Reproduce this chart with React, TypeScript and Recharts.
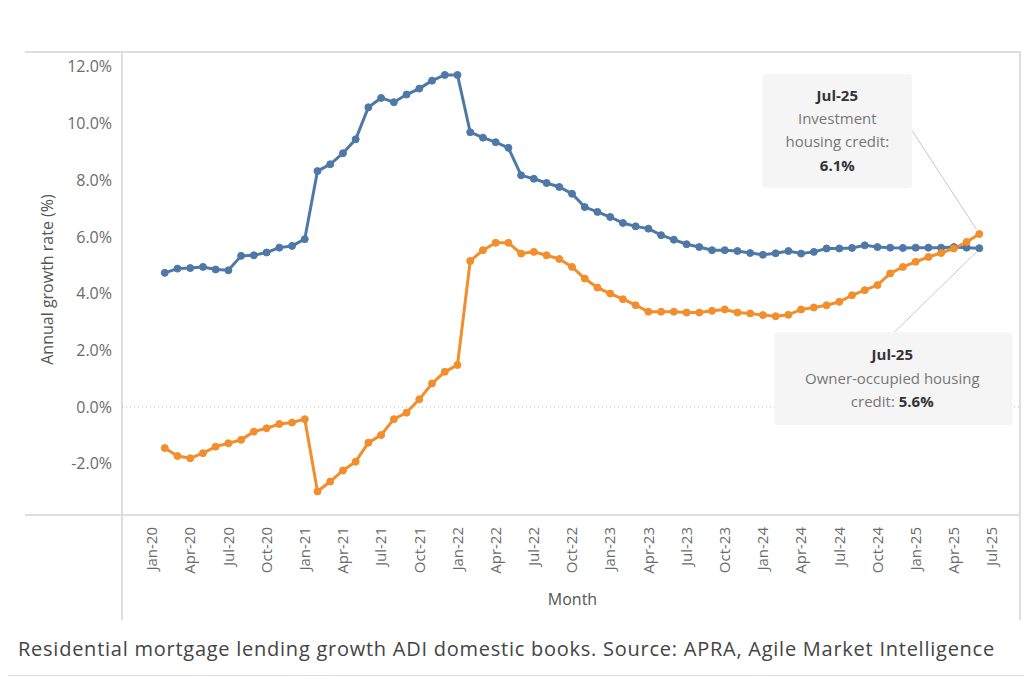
import { LineChart, Line, XAxis, YAxis, ReferenceLine, ReferenceDot, Label } from "recharts";

// quarter tick labels, one every three months starting at Jan-20 (month 0)
const tickLabels = [
  "Jan-20", "Apr-20", "Jul-20", "Oct-20",
  "Jan-21", "Apr-21", "Jul-21", "Oct-21",
  "Jan-22", "Apr-22", "Jul-22", "Oct-22",
  "Jan-23", "Apr-23", "Jul-23", "Oct-23",
  "Jan-24", "Apr-24", "Jul-24", "Oct-24",
  "Jan-25", "Apr-25", "Jul-25",
];
const yTicks = [-2, 0, 2, 4, 6, 8, 10, 12];

// first observation sits one month after Jan-20
const firstMonth = 1;

// annual growth, % (owner-occupied housing credit)
const ownerOccupied = [
  4.73, 4.88, 4.9, 4.94, 4.85, 4.82, 5.33, 5.35, 5.45, 5.62, 5.68, 5.92,
  8.32, 8.56, 8.95, 9.44, 10.57, 10.9, 10.75, 11.02, 11.23, 11.51, 11.71, 11.71,
  9.69, 9.5, 9.34, 9.14, 8.17, 8.05, 7.9, 7.76, 7.52, 7.05, 6.88, 6.7,
  6.49, 6.37, 6.29, 6.06, 5.9, 5.74, 5.64, 5.53, 5.53, 5.5, 5.43, 5.37,
  5.42, 5.5, 5.41, 5.47, 5.59, 5.59, 5.61, 5.7, 5.64, 5.62, 5.61, 5.62,
  5.62, 5.62, 5.64, 5.62, 5.6,
];

// annual growth, % (investment housing credit)
const investment = [
  -1.45, -1.73, -1.81, -1.63, -1.4, -1.28, -1.16, -0.87, -0.75, -0.6, -0.55, -0.43,
  -2.98, -2.63, -2.24, -1.93, -1.26, -0.99, -0.43, -0.2, 0.27, 0.83, 1.24, 1.48,
  5.15, 5.53, 5.79, 5.79, 5.41, 5.47, 5.35, 5.22, 4.94, 4.53, 4.21, 4.0,
  3.8, 3.59, 3.36, 3.36, 3.36, 3.33, 3.33, 3.39, 3.44, 3.33, 3.3, 3.24,
  3.2, 3.25, 3.44, 3.51, 3.59, 3.71, 3.94, 4.12, 4.3, 4.71, 4.94, 5.12,
  5.29, 5.43, 5.59, 5.82, 6.1,
];

const BLUE = "#4e79a7";
const ORANGE = "#f28e2b";
const FONT = "'Open Sans', sans-serif";

const data = ownerOccupied.map((v, i) => ({
  m: firstMonth + i,
  owner: v,
  investment: investment[i],
}));

const tickPositions = tickLabels.map((_, i) => i * 3);
const lastMonth = firstMonth + ownerOccupied.length - 1;
const lastOwner = ownerOccupied[ownerOccupied.length - 1];
const lastInvestment = investment[investment.length - 1];

function MonthTick({ x, y, payload }: any) {
  const label = tickLabels[Math.round(payload.value / 3)];
  return (
    <text
      transform={`translate(${x},${y + 4}) rotate(-90)`}
      textAnchor="end"
      dy="0.35em"
      fontSize={15}
      fontFamily={FONT}
      fill="#6b6b6b"
    >
      {label}
    </text>
  );
}

function MonthTitle({ viewBox }: any) {
  const { x, y, width } = viewBox;
  return (
    <text x={x + width / 2 + 2} y={y + 90} textAnchor="middle" fontSize={16} fontFamily={FONT} fill="#555">
      Month
    </text>
  );
}

function GrowthTitle({ viewBox }: any) {
  const { y, height } = viewBox;
  const cx = 47;
  const cy = y + height / 2 - 4;
  return (
    <text
      transform={`translate(${cx},${cy}) rotate(-90)`}
      textAnchor="middle"
      dy="0.35em"
      fontSize={16}
      fontFamily={FONT}
      fill="#555"
    >
      Annual growth rate (%)
    </text>
  );
}

function InvestmentNote({ cx, cy }: any) {
  const tx = cx - 142;
  return (
    <g fontFamily={FONT} fontSize={15} textAnchor="middle">
      <line x1={cx - 3} y1={cy - 5} x2={cx - 67} y2={cy - 103} stroke="#c8c8c8" strokeWidth={1} />
      <rect x={cx - 217} y={cy - 160} width={150} height={114} rx={4} fill="#f5f5f5" />
      <text x={tx} y={cy - 133} fill="#333" fontWeight={700}>Jul-25</text>
      <text x={tx} y={cy - 110} fill="#777">Investment</text>
      <text x={tx} y={cy - 87} fill="#777">housing credit:</text>
      <text x={tx} y={cy - 63} fill="#333" fontWeight={700}>{lastInvestment.toFixed(1)}%</text>
    </g>
  );
}

function OwnerNote({ cx, cy }: any) {
  const tx = cx - 87;
  return (
    <g fontFamily={FONT} fontSize={15} textAnchor="middle">
      <line x1={cx - 3} y1={cy + 4} x2={cx - 85} y2={cy + 84} stroke="#c8c8c8" strokeWidth={1} />
      <rect x={cx - 205} y={cy + 84} width={238} height={93} rx={4} fill="#f5f5f5" />
      <text x={tx} y={cy + 112} fill="#333" fontWeight={700}>Jul-25</text>
      <text x={tx} y={cy + 136} fill="#777">Owner-occupied housing</text>
      <text x={tx} y={cy + 159} fill="#777">
        credit: <tspan fill="#333" fontWeight={700}>{lastOwner.toFixed(1)}%</tspan>
      </text>
    </g>
  );
}

const rule = (left: number, top: number, width: number, height: number) => (
  <div style={{ position: "absolute", left, top, width, height, background: "#dedede" }} />
);

export default function App() {
  return (
    <div style={{ position: "absolute", left: 0, top: 0, width: 1024, height: 679, background: "#fff", overflow: "hidden" }}>
      {rule(25, 51, 995, 2)}
      {rule(25, 514, 995, 2)}
      {rule(121, 51, 2, 569)}
      {rule(1019, 51, 2, 569)}
      <div style={{ position: "absolute", left: 0, top: 0 }}>
        <LineChart width={1024} height={620} data={data} margin={{ top: 52, right: 5, bottom: 0, left: 0 }}>
          <XAxis
            type="number"
            dataKey="m"
            domain={[-2.36, 68.12]}
            ticks={tickPositions}
            interval={0}
            allowDataOverflow
            axisLine={false}
            tickLine={false}
            height={105}
            tick={<MonthTick />}
          >
            <Label content={<MonthTitle />} />
          </XAxis>
          <YAxis
            type="number"
            domain={[-3.81, 12.52]}
            ticks={yTicks}
            allowDataOverflow
            axisLine={false}
            tickLine={false}
            width={122}
            tickMargin={4}
            tickFormatter={(v) => `${v.toFixed(1)}%`}
            tick={{ fontSize: 16, fill: "#6b6b6b", fontFamily: FONT }}
          >
            <Label content={<GrowthTitle />} />
          </YAxis>
          <ReferenceLine y={0} stroke="#bdbdbd" strokeDasharray="1 3" />
          <Line
            dataKey="owner"
            stroke={BLUE}
            strokeWidth={3}
            dot={{ r: 3.5, fill: BLUE, stroke: BLUE, strokeWidth: 1 }}
            isAnimationActive={false}
          />
          <Line
            dataKey="investment"
            stroke={ORANGE}
            strokeWidth={3}
            dot={{ r: 3.5, fill: ORANGE, stroke: ORANGE, strokeWidth: 1 }}
            isAnimationActive={false}
          />
          <ReferenceDot x={lastMonth} y={lastInvestment} shape={(p: any) => <InvestmentNote {...p} />} />
          <ReferenceDot x={lastMonth} y={lastOwner} shape={(p: any) => <OwnerNote {...p} />} />
        </LineChart>
      </div>
      <div
        style={{
          position: "absolute",
          left: 18,
          top: 635,
          fontSize: 20,
          letterSpacing: "0.75px",
          lineHeight: "28px",
          fontFamily: "'Open Sans', sans-serif",
          color: "#444",
          whiteSpace: "nowrap",
        }}
      >
        Residential mortgage lending growth ADI domestic books. Source: APRA, Agile Market Intelligence
      </div>
      {rule(8, 675, 1016, 1)}
    </div>
  );
}
